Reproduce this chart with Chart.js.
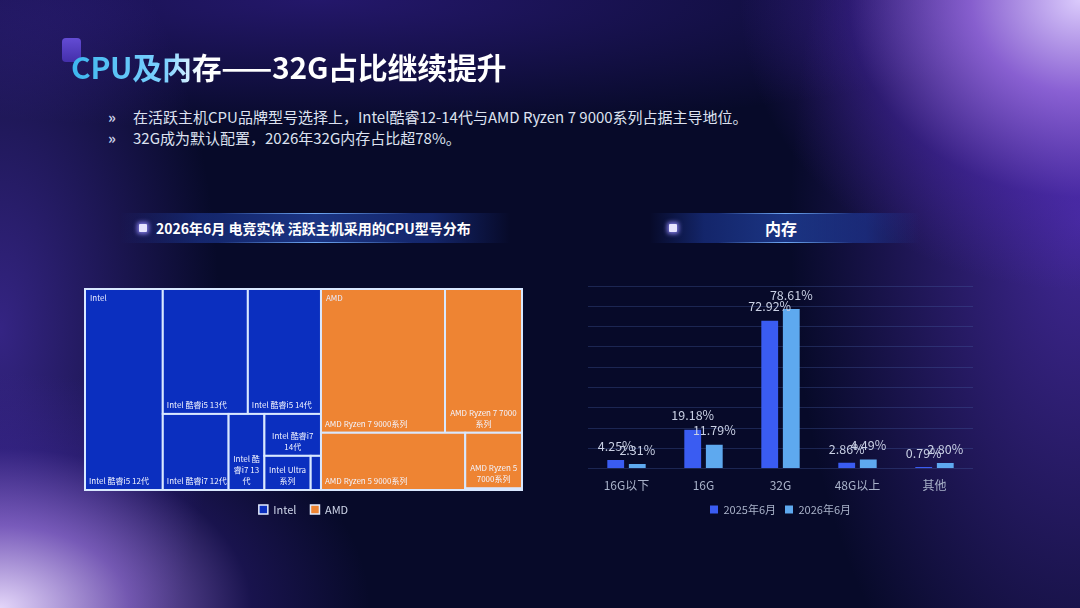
<!DOCTYPE html>
<html>
<head>
<meta charset="utf-8">
<script src="https://cdn.jsdelivr.net/npm/chart.js@4.4.1/dist/chart.umd.min.js"></script>
<style>
  html,body{margin:0;padding:0;}
  body{
    width:1080px;height:608px;overflow:hidden;position:relative;
    font-family:"Noto Sans CJK SC","Noto Sans",sans-serif;
    background:
      radial-gradient(ellipse 340px 290px at 1080px 0px, rgba(222,206,255,0.98) 0%, rgba(162,114,236,0.78) 32%, rgba(92,46,202,0.32) 68%, rgba(40,20,140,0) 100%),
      radial-gradient(ellipse 370px 235px at 0px 608px, rgba(232,218,253,0.98) 0%, rgba(162,122,232,0.68) 35%, rgba(76,46,182,0.26) 68%, rgba(40,20,140,0) 100%),
      radial-gradient(ellipse 290px 570px at 1080px 220px, rgba(100,58,215,0.62) 0%, rgba(50,30,150,0) 100%),
      radial-gradient(ellipse 220px 460px at 0px 330px, rgba(90,58,205,0.55) 0%, rgba(40,20,140,0) 100%),
      radial-gradient(ellipse 760px 130px at 320px 0px, rgba(55,32,150,0.6) 0%, rgba(30,20,100,0) 100%),
      #070a29;
  }
  .deco{position:absolute;left:62px;top:38px;width:19px;height:24px;border-radius:4px;
    background:linear-gradient(180deg,#6f55e8,#4a33b8);opacity:0.85;}
  .title{position:absolute;left:71px;top:44px;font-size:30px;font-weight:700;line-height:44px;letter-spacing:-0.3px;
    background:linear-gradient(90deg,#3cb6ee 0%,#7fd2ff 22%,#ffffff 30%,#ffffff 100%);
    -webkit-background-clip:text;background-clip:text;color:transparent;}
  .bullets{position:absolute;left:108px;top:106px;font-size:15px;color:#dde2f0;line-height:21px;}
  .bullets span{display:inline-block;width:25px;color:#c8cfe6;font-weight:700;}
  .strip{position:absolute;height:30px;
    background:linear-gradient(90deg,rgba(20,40,120,0) 0%,rgba(30,60,160,0.55) 20%,rgba(40,80,190,0.6) 50%,rgba(30,60,160,0.55) 80%,rgba(20,40,120,0) 100%);}
  .strip:before,.strip:after{content:"";position:absolute;left:25%;right:25%;height:1px;
    background:linear-gradient(90deg,rgba(90,150,255,0),rgba(120,180,255,0.9),rgba(90,150,255,0));}
  .strip:before{top:0;} .strip:after{bottom:0;}
  .icon{position:absolute;width:8px;height:8px;background:#e6e4ff;border-radius:1px;
    box-shadow:0 0 4px 2px rgba(150,140,255,0.8);}
  .stitle{position:absolute;font-weight:700;color:#ffffff;white-space:nowrap;}
  #tmWrap{position:absolute;left:83px;top:287px;width:441px;height:238px;}
  #barWrap{position:absolute;left:574px;top:276px;width:406px;height:249px;}
</style>
</head>
<body>
<div class="deco"></div>
<div class="title">CPU及内存——32G占比继续提升</div>
<div class="bullets">
  <div><span>»</span>在活跃主机CPU品牌型号选择上，Intel酷睿12-14代与AMD Ryzen 7 9000系列占据主导地位。</div>
  <div><span>»</span>32G成为默认配置，2026年32G内存占比超78%。</div>
</div>

<div class="strip" style="left:120px;top:213px;width:390px;"></div>
<div class="icon" style="left:139px;top:224px;"></div>
<div class="stitle" style="left:156px;top:217px;font-size:14px;line-height:22px;">2026年6月 电竞实体 活跃主机采用的CPU型号分布</div>

<div class="strip" style="left:650px;top:213px;width:270px;"></div>
<div class="icon" style="left:669px;top:224px;"></div>
<div class="stitle" style="left:750px;top:216px;width:62px;text-align:center;font-size:16px;line-height:24px;">内存</div>

<div id="tmWrap"><canvas id="tm"></canvas></div>
<div id="barWrap"><canvas id="bar"></canvas></div>

<script>
// ----- Treemap data (share of active machines, %) -----
const INTEL_MODELS = ['Intel 酷睿i5 12代','Intel 酷睿i5 13代','Intel 酷睿i5 14代','Intel 酷睿i7 12代','Intel 酷睿i7 13代','Intel 酷睿i7 14代','Intel Ultra系列','Intel 其他'];
const INTEL_SHARE  = [17.8, 12.1, 10.4, 5.7, 3.1, 2.7, 1.8, 0.4];
const AMD_MODELS   = ['AMD Ryzen 7 9000系列','AMD Ryzen 7 7000系列','AMD Ryzen 5 9000系列','AMD Ryzen 5 7000系列','AMD 其他'];
const AMD_SHARE    = [20.3, 12.6, 9.4, 3.6, 0.1];

// ----- Memory bar data (%) -----
const MEM_CATS = ['16G以下','16G','32G','48G以上','其他'];
const MEM_2025 = [4.25, 19.18, 72.92, 2.86, 0.79];
const MEM_2026 = [2.31, 11.79, 78.61, 4.49, 2.80];

const INTEL_COLOR = '#0b2fbf';
const AMD_COLOR   = '#ee8433';
const C2025 = '#3a5cf2';
const C2026 = '#5ea9ef';

// split order of the treemap tiles (indices into the arrays above)
const INTEL_SPLIT = {dir:'h', parts:[0, {dir:'v', parts:[{dir:'h', parts:[1,2]}, {dir:'h', parts:[3,4,{dir:'v', parts:[5,{dir:'h', parts:[6,7]}]}]}]}]};
const AMD_SPLIT   = {dir:'v', parts:[{dir:'h', parts:[0,1]}, {dir:'h', parts:[2,{dir:'v', parts:[3,4]}]}]};

// ----- Helpers -----
function nodeSum(n, vals){ return typeof n==='number' ? vals[n] : n.parts.reduce((s,p)=>s+nodeSum(p,vals),0); }
function place(n, vals, r, out, grp){
  if(typeof n==='number'){ out.push({x0:r.x0,x1:r.x1,y0:r.y0,y1:r.y1,i:n,grp}); return; }
  const tot = nodeSum(n, vals); let off = 0;
  for(const p of n.parts){
    const f = nodeSum(p, vals)/tot;
    const sub = n.dir==='h'
      ? {x0:r.x0+(r.x1-r.x0)*off, x1:r.x0+(r.x1-r.x0)*(off+f), y0:r.y0, y1:r.y1}
      : {x0:r.x0, x1:r.x1, y0:r.y0+(r.y1-r.y0)*off, y1:r.y0+(r.y1-r.y0)*(off+f)};
    place(p, vals, sub, out, grp); off += f;
  }
}
function tiles(){
  const iSum = INTEL_SHARE.reduce((a,b)=>a+b,0), aSum = AMD_SHARE.reduce((a,b)=>a+b,0);
  const cut = 100*iSum/(iSum+aSum);
  const out = [];
  place(INTEL_SPLIT, INTEL_SHARE, {x0:0,x1:cut,y0:0,y1:100}, out, 'intel');
  place(AMD_SPLIT, AMD_SHARE, {x0:cut,x1:100,y0:0,y1:100}, out, 'amd');
  return {out, cut};
}
function tokens(s){ return s.match(/[A-Za-z0-9\-]+|\s|./g); }
function wrap(ctx, s, maxW){
  const lines=[]; let cur='';
  for(const t of tokens(s)){
    const test = cur + t;
    if(ctx.measureText(test).width > maxW && cur.trim()){ lines.push(cur.trim()); cur = t.trim(); }
    else cur = test;
  }
  if(cur.trim()) lines.push(cur.trim());
  return lines;
}

const treemapCells = {
  id:'treemapCells',
  afterDatasetsDraw(chart){
    const {ctx, scales:{x, y}} = chart;
    const {out, cut} = tiles();
    ctx.save();
    for(const t of out){
      const px0 = x.getPixelForValue(t.x0), px1 = x.getPixelForValue(t.x1);
      const py0 = y.getPixelForValue(t.y0), py1 = y.getPixelForValue(t.y1);
      ctx.fillStyle = t.grp==='intel' ? INTEL_COLOR : AMD_COLOR;
      ctx.fillRect(px0, py0, px1-px0, py1-py0);
      ctx.strokeStyle = '#d9e8ff'; ctx.lineWidth = 2;
      ctx.strokeRect(px0, py0, px1-px0, py1-py0);
      const w = px1-px0, h = py1-py0;
      const name = t.grp==='intel' ? INTEL_MODELS[t.i] : AMD_MODELS[t.i];
      if(w < 22 || h < 16) continue;
      ctx.font = '8px "Noto Sans CJK SC", sans-serif';
      ctx.fillStyle = '#f2f4ff'; ctx.textBaseline = 'alphabetic';
      if(ctx.measureText(name).width <= w-4){
        ctx.textAlign = 'left';
        ctx.fillText(name, px0+4, py1-6);
      } else {
        const lines = wrap(ctx, name, w-6);
        ctx.textAlign = 'center';
        lines.forEach((ln, k)=> ctx.fillText(ln, (px0+px1)/2, py1-6-(lines.length-1-k)*11));
      }
    }
    // parent labels
    ctx.font = '8px "Noto Sans CJK SC", sans-serif'; ctx.textAlign='left'; ctx.fillStyle='#e8ecff';
    ctx.fillText('Intel', x.getPixelForValue(0)+5, y.getPixelForValue(0)+12);
    ctx.fillText('AMD', x.getPixelForValue(cut)+5, y.getPixelForValue(0)+12);
    ctx.restore();
  }
};

new Chart(document.getElementById('tm'), {
  type:'scatter',
  data:{ datasets:[
    {label:'Intel', data:[], backgroundColor:INTEL_COLOR, borderColor:'#e3ecff', borderWidth:1.5},
    {label:'AMD', data:[], backgroundColor:AMD_COLOR, borderColor:'#e3ecff', borderWidth:1.5}
  ]},
  options:{
    responsive:true, maintainAspectRatio:false, animation:false,
    layout:{padding:{left:2,right:2,top:2,bottom:0}},
    scales:{
      x:{type:'linear', min:0, max:100, display:false},
      y:{type:'linear', min:0, max:100, reverse:true, display:false}
    },
    plugins:{
      tooltip:{enabled:false},
      legend:{position:'bottom', labels:{boxWidth:9, boxHeight:9, padding:14, color:'#cfd6ea', font:{size:11, family:'"Noto Sans CJK SC", sans-serif'}}}
    }
  },
  plugins:[treemapCells]
});

// ----- value labels for bars -----
const barLabels = {
  id:'barLabels',
  afterDatasetsDraw(chart){
    const {ctx} = chart;
    ctx.save();
    ctx.font = '12.5px "Noto Sans CJK SC", sans-serif';
    ctx.fillStyle = '#c9d0e4'; ctx.textAlign='center'; ctx.textBaseline='middle';
    chart.data.datasets.forEach((ds, di)=>{
      chart.getDatasetMeta(di).data.forEach((bar, i)=>{
        ctx.fillText(ds.data[i].toFixed(2)+'%', bar.x, bar.y-14);
      });
    });
    ctx.restore();
  }
};

new Chart(document.getElementById('bar'), {
  type:'bar',
  data:{ labels:MEM_CATS, datasets:[
    {label:'2025年6月', data:MEM_2025, backgroundColor:C2025, categoryPercentage:0.56, barPercentage:0.78},
    {label:'2026年6月', data:MEM_2026, backgroundColor:C2026, categoryPercentage:0.56, barPercentage:0.78}
  ]},
  options:{
    responsive:true, maintainAspectRatio:false, animation:false,
    layout:{padding:{left:14,right:7,top:10,bottom:0}},
    scales:{
      x:{grid:{display:false}, border:{display:false},
         ticks:{color:'#a9b2c9', padding:2, font:{size:12, family:'"Noto Sans CJK SC", sans-serif'}}},
      y:{min:0, max:90, ticks:{display:false, stepSize:10}, border:{display:false},
         grid:{color:'rgba(70,92,160,0.35)', drawTicks:false}}
    },
    plugins:{
      tooltip:{enabled:false},
      legend:{position:'bottom', labels:{boxWidth:8, boxHeight:8, padding:9, color:'#aab3ca', font:{size:11, family:'"Noto Sans CJK SC", sans-serif'}}}
    }
  },
  plugins:[barLabels]
});
</script>
</body>
</html>
